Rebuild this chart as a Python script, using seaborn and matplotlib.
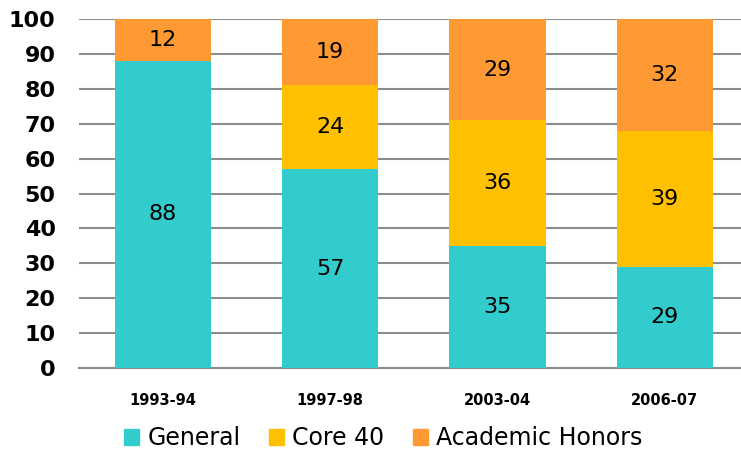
import matplotlib
matplotlib.use("Agg")
import matplotlib.pyplot as plt
import seaborn as sns
import pandas as pd
import numpy as np

years = ["1993-94", "1997-98", "2003-04", "2006-07"]
general = [88, 57, 35, 29]
core40 = [0, 24, 36, 39]
honors = [12, 19, 29, 32]
series_names = ["General", "Core 40", "Academic Honors"]
colors = ["#33CCCC", "#FFC000", "#FF9933"]
yticks = list(range(0, 101, 10))

sns.set_theme(style="white")
plt.rcParams['font.family'] = ['DejaVu Sans']

fig = plt.figure(figsize=(7.41, 4.51), dpi=100)
ax = fig.add_axes([79.3/741, 1 - 368/451, 669/741, (368 - 19)/451])

values = [general, core40, honors]
bottom = np.zeros(len(years))
for name, vals, col in zip(series_names, values, colors):
    df = pd.DataFrame({"year": years, "value": vals})
    sns.barplot(data=df, x="year", y="value", color=col, bottom=bottom,
                width=0.575, ax=ax, label=name, saturation=1, zorder=3,
                linewidth=0, edgecolor="none")
    bottom = bottom + np.array(vals)

if ax.get_legend() is not None:
    ax.get_legend().remove()

for cont in ax.containers:
    labels = [f"{int(round(b.get_height()))}" if b.get_height() > 0 else "" for b in cont]
    ax.bar_label(cont, labels=labels, label_type="center", fontsize=16, color="black")

ax.set_ylim(0, 100)
ax.set_xlim(-0.5, 3.5)
ax.set_yticks(yticks)
ax.set_yticklabels([str(t) for t in yticks], fontsize=16, fontweight="bold", color="black")
ax.tick_params(axis="x", labelsize=10.5, pad=18, length=0, labelcolor="black")
for lab in ax.get_xticklabels():
    lab.set_fontweight("bold")
ax.tick_params(axis="y", pad=17, length=0, labelcolor="black")
ax.set_xlabel("")
ax.set_ylabel("")
ax.yaxis.grid(True, color="#8C8C8C", linewidth=1.5, zorder=0)
ax.set_axisbelow(True)
for s in ["left", "right", "top"]:
    ax.spines[s].set_visible(False)
ax.spines["bottom"].set_color("#8C8C8C")
ax.spines["bottom"].set_linewidth(1.5)

handles = [plt.Rectangle((0, 0), 1, 1, color=c) for c in colors]
leg = fig.legend(handles, series_names, loc="lower center", bbox_to_anchor=(0.517, -0.045), ncol=3,
                 frameon=False, fontsize=17, handlelength=0.65, handleheight=0.65,
                 handletextpad=0.35, columnspacing=1.2, labelcolor="black")

fig.savefig("out.png", dpi=100)
